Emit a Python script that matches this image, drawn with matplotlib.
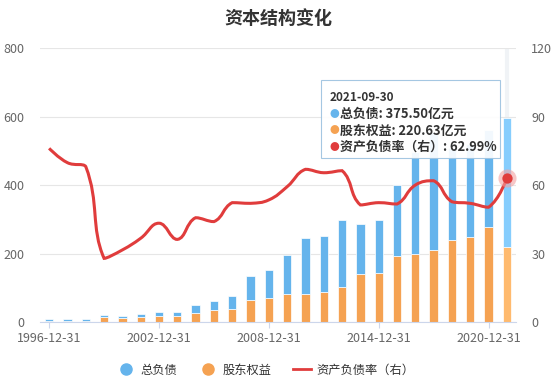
import numpy as np
import matplotlib
matplotlib.use('Agg')
import matplotlib.pyplot as plt
from matplotlib.path import Path
from matplotlib.patches import PathPatch
from matplotlib.lines import Line2D

plt.rcParams['font.family'] = ['Noto Sans CJK SC', 'DejaVu Sans']

years = [str(y) + '-12-31' for y in range(1996, 2021)] + ['2021-09-30']
equity = [2.5, 3.2, 3.3, 14.4, 13.5, 15.5, 17.5, 19.0, 27.5, 35.0, 37.5, 64.0, 72.0,
          81.7, 81.7, 87.6, 102.0, 140.0, 143.0, 194.5, 198.5, 211.0, 240.0, 250.0, 279.0, 220.63]
liabilities = [8.0, 7.3, 7.2, 5.6, 6.0, 8.7, 13.5, 11.0, 23.0, 28.0, 40.5, 71.0, 82.0,
               114.8, 164.3, 164.4, 196.7, 148.0, 155.7, 207.5, 298.5, 344.0, 268.0, 272.0, 283.0, 375.50]
ratio = [76.2, 69.9, 68.2, 28.0, 31.7, 36.8, 43.4, 36.3, 45.8, 44.1, 52.4, 52.1, 53.6,
         59.4, 67.0, 65.5, 66.4, 51.4, 52.4, 51.8, 60.1, 62.0, 52.8, 52.1, 50.4, 62.99]
tick_idx = [0, 6, 12, 18, 24]

blue = '#65b4ec'
orange = '#f5a252'
red = '#e03c3c'

fig = plt.figure(figsize=(5.51, 3.85), dpi=100)
ax = fig.add_axes([40 / 551, 1 - 322.3 / 385, 476 / 551, 274 / 385])
ax2 = ax.twinx()

n = len(years)
x = np.arange(n)
ax.axvline(n - 1, color='#f0f3f6', lw=3, zorder=0)

cb = [blue] * (n - 1) + ['#86cdfd']
co = [orange] * (n - 1) + ['#ffba6e']
ax.bar(x, equity, width=0.45, color=co, edgecolor='white', linewidth=0.5, zorder=2)
ax.bar(x, liabilities, width=0.45, bottom=equity, color=cb, edgecolor='white', linewidth=0.5, zorder=2)

ax.set_xlim(-0.5, n - 0.5)
ax.set_ylim(0, 800)
ax.set_yticks([0, 200, 400, 600, 800])
ax.grid(axis='y', color='#e6e6e6', lw=0.8)
ax.set_axisbelow(True)
ax.set_xticks(tick_idx)
ax.set_xticklabels([years[i] for i in tick_idx])
for s in ['top', 'right', 'left']:
    ax.spines[s].set_visible(False)
ax.spines['bottom'].set_color('#ccd6eb')
ax.tick_params(axis='x', colors='#ccd6eb', labelcolor='#666666', labelsize=9, length=4, pad=3)
ax.tick_params(axis='y', length=0, labelcolor='#666666', labelsize=9, pad=11)

# smooth line on the right axis
ax2.set_ylim(0, 120)
ax2.set_yticks([0, 30, 60, 90, 120])
for s in ['top', 'right', 'left', 'bottom']:
    ax2.spines[s].set_visible(False)
ax2.tick_params(axis='y', length=0, labelcolor='#666666', labelsize=9, pad=11)

# bezier control points worked out in pixel space, clamped so peaks stay flat
sx, sy = 476 / n, 274 / 120
P = np.column_stack([x * sx, np.array(ratio) * sy])
smooth = 0.45
cps_in, cps_out = [], []
for i in range(n):
    p = P[i]
    if i == 0 or i == n - 1:
        cps_in.append(p.copy())
        cps_out.append(p.copy())
        continue
    pr, nx = P[i - 1], P[i + 1]
    v = nx - pr
    d0 = np.hypot(*(p - pr))
    d1 = np.hypot(*(nx - p))
    cin = p - v * smooth * d0 / (d0 + d1)
    cout = p + v * smooth * d1 / (d0 + d1)
    cin[1] = np.clip(cin[1], min(pr[1], p[1]), max(pr[1], p[1]))
    cout[1] = np.clip(cout[1], min(nx[1], p[1]), max(nx[1], p[1]))
    cps_in.append(cin)
    cps_out.append(cout)
verts = [P[0]]
codes = [Path.MOVETO]
for i in range(n - 1):
    verts += [cps_out[i], cps_in[i + 1], P[i + 1]]
    codes += [Path.CURVE4] * 3
verts = np.array(verts) / [sx, sy]
ax2.add_patch(PathPatch(Path(verts, codes), fill=False, edgecolor=red, lw=2.2, zorder=3))
ax2.scatter([n - 1], [ratio[-1]], s=170, color='#f3a0a0', alpha=0.6, zorder=4, lw=0)
ax2.scatter([n - 1], [ratio[-1]], s=55, color=red, zorder=5, lw=0)

fig.text(278 / 551, 1 - 18 / 385, '资本结构变化', ha='center', va='center',
         fontsize=13, fontweight='bold', color='#333333')

# tooltip
tip = plt.Rectangle((321 / 551, 1 - 158 / 385), 179 / 551, 78 / 385, transform=fig.transFigure,
                    facecolor='white', alpha=0.92, edgecolor='#9ec3e0', lw=0.8, zorder=10)
fig.patches.append(tip)
fig.text(330 / 551, 1 - 97.5 / 385, '2021-09-30', fontsize=8.5, fontweight='bold',
         color='#333333', va='center', zorder=11)
rows = [(blue, '总负债: 375.50亿元'), (orange, '股东权益: 220.63亿元'), (red, '资产负债率（右）: 62.99%')]
for j, (c, t) in enumerate(rows):
    yy = 1 - (114 + 16.5 * j) / 385
    fig.text(334 / 551, yy, '●', color=c, fontsize=7, va='center', ha='center', zorder=11)
    fig.text(340 / 551, yy, t, color='#333333', fontsize=9.3, fontweight='bold', va='center', zorder=11)

handles = [Line2D([], [], color=blue, marker='o', ls='none', markersize=8),
           Line2D([], [], color=orange, marker='o', ls='none', markersize=8),
           Line2D([], [], color=red, lw=2)]
fig.legend(handles, ['总负债', '股东权益', '资产负债率（右）'], loc='center',
           bbox_to_anchor=(266 / 551, 1 - 370 / 385), ncol=3, frameon=False,
           fontsize=8.8, handlelength=1.4, columnspacing=1.8, handletextpad=0.5,
           labelcolor='#333333')

fig.savefig('out.png', dpi=100)
